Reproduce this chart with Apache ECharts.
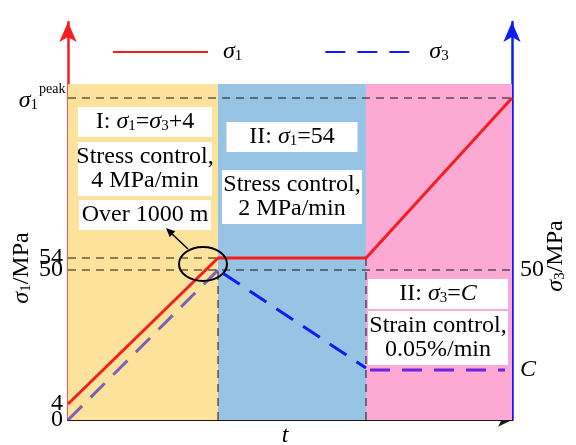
<!DOCTYPE html>
<html>
<head>
<meta charset="utf-8">
<script src="https://cdn.jsdelivr.net/npm/echarts@6/dist/echarts.min.js"></script>
<style>
  html, body { margin: 0; padding: 0; background: #fff; }
  #Chart { width: 576px; height: 445px; }
</style>
</head>
<body>
<div id="Chart"></div>
<script>
// schematic units: x = time, y = stress position on the drawing
var stageEdges = [0, 150, 298, 444];
var stageTop = 336;
var stageColors = ['#fde29c', '#97c4e4', '#fca9d3'];

var s1X = [0, 150, 298, 444];
var s1Y = [16, 162, 162, 322];
var s3RiseX = [0, 150];
var s3RiseY = [0, 150];
var s3DropX = [150, 298];
var s3DropY = [150, 52];
var s3HoldX = [298, 437];
var s3HoldY = [50, 50];

// left ticks split in two sets so close labels are not dropped
var leftTickValsA = [0, 162];
var leftTickTextA = ['0', '54'];
var leftTickValsB = [16, 150];
var leftTickTextB = ['4', '50'];
var rightTickVals = [50, 150];
var rightTickText = ['C', '50'];
var peakY = 322;

var serif = 'Liberation Serif';
var red = '#f51d1d';
var blue = '#0b1cf5';

function pairs(xs, ys) {
    var out = [];
    for (var i = 0; i < xs.length; i++) out.push([xs[i], ys[i]]);
    return out;
}

var rich = {
    s: { fontFamily: serif, fontSize: 24, fontStyle: 'italic', color: '#000', fill: '#000' },
    sub: { fontFamily: serif, fontSize: 15, verticalAlign: 'bottom', color: '#000', fill: '#000' },
    i: { fontFamily: serif, fontSize: 24, fontStyle: 'italic', color: '#000', fill: '#000' },
    g: { width: 10 }
};

var areas = [];
for (var k = 0; k < 3; k++) {
    areas.push([
        { xAxis: stageEdges[k], yAxis: 0, itemStyle: { color: stageColors[k] } },
        { xAxis: stageEdges[k + 1], yAxis: stageTop }
    ]);
}

var dash = { color: 'rgba(0,0,0,0.6)', width: 1.5, type: [8, 6] };
var refLines = [
    [{ coord: [0, peakY] }, { coord: [444, peakY] }],
    [{ coord: [0, 162] }, { coord: [150, 162] }],
    [{ coord: [0, 150] }, { coord: [444, 150] }],
    [{ coord: [150, 0] }, { coord: [150, 150] }],
    [{ coord: [298, 0] }, { coord: [298, 162] }]
];

function box(x, y, w, text) {
    return {
        type: 'text', x: x, y: y, z: 20,
        style: {
            text: text, fill: '#000', fontFamily: serif, fontSize: 24, lineHeight: 24,
            align: 'center', verticalAlign: 'middle', backgroundColor: '#fff',
            width: w, padding: [3, 0, 3, 0], rich: rich
        }
    };
}

function leftAxis(vals, texts, showLine) {
    return {
        type: 'value', min: 0, max: 398, position: 'left',
        axisLine: { show: showLine, onZero: false, lineStyle: { color: red, width: 2.5 }, symbol: ['none', 'arrow'], symbolSize: [13, 20] },
        axisTick: { show: false }, splitLine: { show: false },
        axisLabel: {
            customValues: vals, margin: 5,
            showMinLabel: true, showMaxLabel: true, hideOverlap: false,
            fontFamily: serif, fontSize: 24, color: '#000',
            formatter: function (v) { return texts[vals.indexOf(v)]; }
        }
    };
}

var myChart = echarts.init(document.getElementById('Chart'));
var option = {
    animation: false,
    grid: { left: 68, right: 64, top: 22, bottom: 25 },
    legend: {
        left: 112, top: 40, padding: 0,
        data: ['σ1', 'σ3'],
        itemWidth: 95, itemHeight: 14, itemGap: 76,
        itemStyle: { opacity: 0 },
        formatter: function (name) { return '{g|}{s|σ}{sub|' + name.slice(1) + '}'; },
        textStyle: { fontFamily: serif, fontSize: 24, color: '#000', rich: rich }
    },
    xAxis: {
        type: 'value', min: 0, max: 444,
        axisLine: { show: true, lineStyle: { color: '#1a1a1a', width: 2 }, symbol: ['none', 'arrow'], symbolSize: [10, 14] },
        axisTick: { show: false }, axisLabel: { show: false }, splitLine: { show: false }
    },
    yAxis: [
        leftAxis(leftTickValsA, leftTickTextA, true),
        leftAxis(leftTickValsB, leftTickTextB, false),
        {
            type: 'value', min: 0, max: 398, position: 'right',
            axisLine: { show: true, onZero: false, lineStyle: { color: blue, width: 2.5 }, symbol: ['none', 'arrow'], symbolSize: [13, 20] },
            axisTick: { show: false }, splitLine: { show: false },
            axisLabel: {
                customValues: rightTickVals, margin: 8,
                showMinLabel: true, hideOverlap: false,
                fontFamily: serif, fontSize: 24, color: '#000', rich: rich,
                formatter: function (v) {
                    var t = rightTickText[rightTickVals.indexOf(v)];
                    return t === 'C' ? '{i|C}' : t;
                }
            }
        }
    ],
    series: [
        {
            name: 'bg', type: 'line', data: [], z: 0, silent: true,
            markArea: { silent: true, data: areas },
            markLine: { silent: true, symbol: 'none', label: { show: false }, lineStyle: dash, data: refLines }
        },
        {
            name: 'σ1', type: 'line', data: pairs(s1X, s1Y), symbol: 'none', z: 5,
            lineStyle: { color: red, width: 3 }, itemStyle: { color: red }
        },
        {
            name: 'σ3 rise', type: 'line', data: pairs(s3RiseX, s3RiseY), symbol: 'none', z: 4,
            lineStyle: { color: '#7a63b5', width: 3, type: [20, 12] }
        },
        {
            name: 'σ3', type: 'line', data: pairs(s3DropX, s3DropY), symbol: 'none', z: 4,
            lineStyle: { color: blue, width: 3, type: [20, 12], dashOffset: -6 }, itemStyle: { color: blue }
        },
        {
            name: 'σ3 hold', type: 'line', data: pairs(s3HoldX, s3HoldY), symbol: 'none', z: 4,
            lineStyle: { color: '#6a22dc', width: 3, type: [20, 12], dashOffset: -4 }
        }
    ],
    graphic: [
        { type: 'text', x: 38, y: 101, style: { text: '{s|σ}{sub|1}', align: 'right', verticalAlign: 'middle', rich: rich, fontFamily: serif, fontSize: 24, fill: '#000' } },
        { type: 'text', x: 39, y: 89, style: { text: 'peak', align: 'left', verticalAlign: 'middle', fontFamily: serif, fontSize: 14, fill: '#000' } },
        { type: 'text', x: 22, y: 268, rotation: Math.PI / 2, style: { text: '{s|σ}{sub|1}/MPa', align: 'center', verticalAlign: 'middle', rich: rich, fontFamily: serif, fontSize: 24, fill: '#000' } },
        { type: 'text', x: 556, y: 256, rotation: Math.PI / 2, style: { text: '{s|σ}{sub|3}/MPa', align: 'center', verticalAlign: 'middle', rich: rich, fontFamily: serif, fontSize: 24, fill: '#000' } },
        { type: 'text', x: 285, y: 436, style: { text: 't', align: 'center', verticalAlign: 'middle', fontFamily: serif, fontSize: 24, fontStyle: 'italic', fill: '#000' } },
        box(145, 122, 134, 'I: {s|σ}{sub|1}={s|σ}{sub|3}+4'),
        box(145, 169, 134, 'Stress control,\n4 MPa/min'),
        box(145, 215, 132, 'Over 1000 m'),
        box(292, 137, 131, 'II: {s|σ}{sub|1}=54'),
        box(292, 197, 140, 'Stress control,\n2 MPa/min'),
        box(438, 294, 140, 'II: {s|σ}{sub|3}={i|C}'),
        box(438, 338, 140, 'Strain control,\n0.05%/min'),
        { type: 'ellipse', z: 30, shape: { cx: 203, cy: 264, rx: 24, ry: 17 }, style: { fill: 'none', stroke: '#000', lineWidth: 2 } },
        { type: 'line', z: 30, shape: { x1: 188, y1: 249, x2: 171, y2: 233 }, style: { stroke: '#000', lineWidth: 1.5 } },
        { type: 'polygon', z: 30, shape: { points: [[166, 228], [175.3, 231.3], [169.7, 237.1]] }, style: { fill: '#000' } }
    ]
};
myChart.setOption(option);
window.addEventListener('resize', function () {
    myChart.resize();
});
</script>
</body>
</html>
